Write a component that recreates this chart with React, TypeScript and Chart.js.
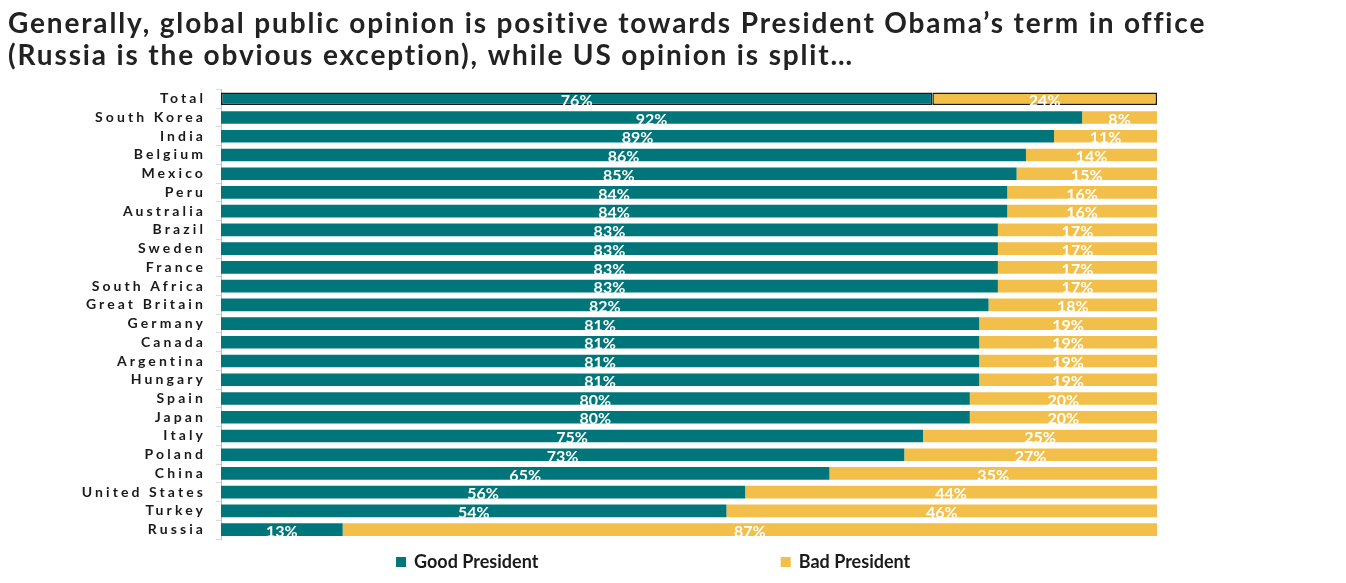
import React, { useEffect, useRef } from "react";
import { Chart, registerables } from "chart.js";

Chart.register(...registerables);

const categories = [
  "Total", "South Korea", "India", "Belgium", "Mexico", "Peru", "Australia", "Brazil",
  "Sweden", "France", "South Africa", "Great Britain", "Germany", "Canada", "Argentina",
  "Hungary", "Spain", "Japan", "Italy", "Poland", "China", "United States", "Turkey", "Russia",
];
const goodValues = [76, 92, 89, 86, 85, 84, 84, 83, 83, 83, 83, 82, 81, 81, 81, 81, 80, 80, 75, 73, 65, 56, 54, 13];
const badValues = [24, 8, 11, 14, 15, 16, 16, 17, 17, 17, 17, 18, 19, 19, 19, 19, 20, 20, 25, 27, 35, 44, 46, 87];
const seriesNames = ["Good President", "Bad President"];
const titleLines = [
  "Generally, global public opinion is positive towards President Obama’s term in office",
  "(Russia is the obvious exception), while US opinion is split…",
];

const TEAL = "#00767B";
const GOLD = "#F2BF4B";
const TEXT = "#1a1a1a";
const FONT = "Lato, 'DejaVu Sans', sans-serif";
const LEGEND_OFFSETS = [0.187, 0.598];

const labelPlugin = {
  id: "segLabels",
  beforeDraw(chart: any) {
    // title spacing (title is drawn in the first layer pass)
    (chart.ctx as any).letterSpacing = "1.85px";
  },
  beforeDatasetsDraw(chart: any) {
    (chart.ctx as any).letterSpacing = "0px";
  },
  afterDatasetsDraw(chart: any) {
    const ctx = chart.ctx;
    (ctx as any).letterSpacing = "0px";
    ctx.save();
    ctx.font = `bold 16px ${FONT}`;
    ctx.fillStyle = "#ffffff";
    ctx.textAlign = "center";
    ctx.textBaseline = "middle";
    chart.data.datasets.forEach((ds: any, di: number) => {
      const meta = chart.getDatasetMeta(di);
      meta.data.forEach((bar: any, i: number) => {
        const p = bar.getProps(["x", "y", "base"], true);
        ctx.fillText(ds.data[i] + "%", (p.x + p.base) / 2, p.y + 2);
      });
    });
    ctx.restore();
    // spacing for the category labels drawn after datasets
    (ctx as any).letterSpacing = "3.1px";
  },
  afterDraw(chart: any) {
    const ctx = chart.ctx;
    (ctx as any).letterSpacing = "0px";
    ctx.save();
    const { left, width, bottom } = chart.chartArea;
    ctx.font = `bold 18px ${FONT}`;
    ctx.textBaseline = "middle";
    ctx.textAlign = "left";
    chart.data.datasets.forEach((ds: any, i: number) => {
      const x = left + LEGEND_OFFSETS[i] * width;
      const y = bottom + 23;
      ctx.fillStyle = ds.backgroundColor;
      ctx.fillRect(x, y - 5, 10, 10);
      ctx.fillStyle = TEXT;
      ctx.fillText(ds.label, x + 18, y);
    });
    ctx.restore();
  },
};

export default function App() {
  const ref = useRef<HTMLCanvasElement>(null);
  useEffect(() => {
    if (!ref.current) return;
    const border = (c: any) => (c.dataIndex === 0 ? 1.5 : 0);
    const skipped = (c: any) => (c.dataIndex === 0 ? false : "start");
    const chart = new Chart(ref.current, {
      type: "bar",
      data: {
        labels: categories,
        datasets: [
          {
            label: seriesNames[0],
            data: goodValues,
            backgroundColor: TEAL,
            borderColor: TEXT,
            borderWidth: border as any,
            borderSkipped: skipped as any,
            barPercentage: 0.9,
            categoryPercentage: 0.75,
          },
          {
            label: seriesNames[1],
            data: badValues,
            backgroundColor: GOLD,
            borderColor: TEXT,
            borderWidth: border as any,
            borderSkipped: skipped as any,
            barPercentage: 0.9,
            categoryPercentage: 0.75,
          },
        ],
      },
      options: {
        indexAxis: "y",
        responsive: false,
        animation: false,
        layout: { padding: { left: 0, right: 0, top: 0, bottom: 36 } },
        plugins: {
          legend: { display: false },
          tooltip: { enabled: false },
          title: {
            display: true,
            text: titleLines,
            align: "start",
            color: "#222222",
            font: { family: FONT, size: 28, weight: "bold", lineHeight: 1.15 },
            padding: { top: 0, bottom: 17 },
          },
        },
        scales: {
          x: { stacked: true, min: 0, max: 100, display: false },
          y: {
            stacked: true,
            grid: { offset: true, drawOnChartArea: false, tickLength: 5, color: "#d9d9d9" },
            border: { color: "#bfbfbf" },
            ticks: {
              z: 1,
              padding: 10,
              autoSkip: false,
              color: TEXT,
              font: { family: FONT, size: 14, weight: "bold" },
            },
            afterFit: (s: any) => {
              s.width = 213;
            },
          },
          yRight: {
            type: "category",
            position: "right",
            display: true,
            grid: { display: false },
            border: { display: false },
            ticks: { display: false },
            afterFit: (s: any) => {
              s.width = 181;
            },
          },
        },
      },
      plugins: [labelPlugin],
    });
    return () => chart.destroy();
  }, []);
  return <canvas ref={ref} width={1330} height={567} style={{ display: "block" }} />;
}
